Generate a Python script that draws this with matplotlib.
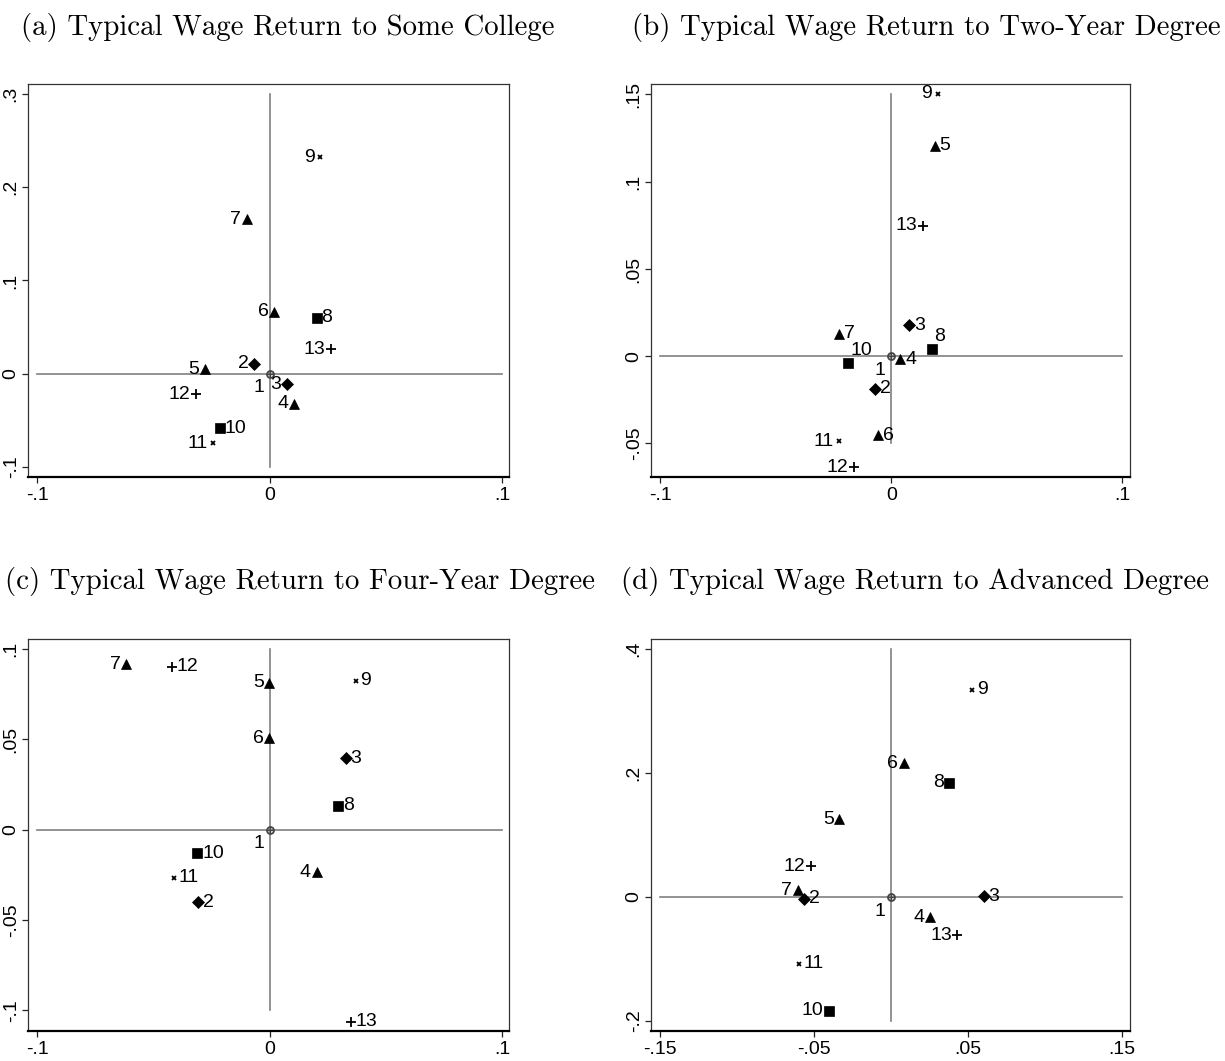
import matplotlib
matplotlib.use("Agg")
import matplotlib.pyplot as plt

plt.rcParams['font.family'] = ['Liberation Sans', 'DejaVu Sans']

ids = [1, 2, 3, 4, 5, 6, 7, 8, 9, 10, 11, 12, 13]

# estimated coordinates (x, y) for each group
a_x = [0, -0.0065, 0.0073, 0.0105, -0.0277, 0.0019, -0.0099, 0.0202, 0.0219, -0.0215, -0.0242, -0.0317, 0.0265]
a_y = [0, 0.0105, -0.011, -0.032, 0.0047, 0.0665, 0.1655, 0.060, 0.2323, -0.0582, -0.0746, -0.0221, 0.0261]

b_x = [0, -0.0071, 0.0077, 0.004, 0.0188, -0.0056, -0.0227, 0.0175, 0.0202, -0.0188, -0.0225, -0.0162, 0.0137]
b_y = [0, -0.0185, 0.0178, -0.0017, 0.1205, -0.0453, 0.0128, 0.004, 0.1503, -0.0038, -0.0486, -0.0637, 0.0748]

c_x = [0, -0.0306, 0.0327, 0.0202, -0.0001, -0.0001, -0.0617, 0.0294, 0.037, -0.0311, -0.0412, -0.042, 0.0349]
c_y = [0, -0.0403, 0.0394, -0.0235, 0.0813, 0.0505, 0.0915, 0.0133, 0.0824, -0.013, -0.0266, 0.0902, -0.1065]

d_x = [0, -0.0567, 0.0601, 0.0254, -0.0335, 0.0081, -0.0606, 0.0378, 0.0525, -0.0406, -0.0597, -0.0523, 0.043]
d_y = [0, -0.0026, 0.001, -0.0323, 0.125, 0.2155, 0.0108, 0.1842, 0.334, -0.183, -0.1076, 0.0496, -0.0614]

titles = ["(a) Typical Wage Return to Some College",
          "(b) Typical Wage Return to Two-Year Degree",
          "(c) Typical Wage Return to Four-Year Degree",
          "(d) Typical Wage Return to Advanced Degree"]

a_xticks = [-0.1, 0, 0.1]
a_xlabels = ["-.1", "0", ".1"]
a_yticks = [-0.1, 0, 0.1, 0.2, 0.3]
a_ylabels = ["-.1", "0", ".1", ".2", ".3"]

b_xticks = [-0.1, 0, 0.1]
b_xlabels = ["-.1", "0", ".1"]
b_yticks = [-0.05, 0, 0.05, 0.1, 0.15]
b_ylabels = ["-.05", "0", ".05", ".1", ".15"]

c_xticks = [-0.1, 0, 0.1]
c_xlabels = ["-.1", "0", ".1"]
c_yticks = [-0.1, -0.05, 0, 0.05, 0.1]
c_ylabels = ["-.1", "-.05", "0", ".05", ".1"]

d_xticks = [-0.15, -0.05, 0.05, 0.15]
d_xlabels = ["-.15", "-.05", ".05", ".15"]
d_yticks = [-0.2, 0, 0.2, 0.4]
d_ylabels = ["-.2", "0", ".2", ".4"]

# marker style per group id
markers = {1: 'o', 2: 'D', 3: 'D', 4: '^', 5: '^', 6: '^', 7: '^',
           8: 's', 9: 'x', 10: 's', 11: 'x', 12: '+', 13: '+'}
msizes = {'o': 5, 'D': 6.5, '^': 7.5, 's': 6.5, 'x': 3.5, '+': 6.5}

# where each number label sits relative to its marker
a_pos = ['ll', 'l', 'l', 'l', 'l', 'l', 'l', 'r', 'l', 'r', 'l', 'l', 'l']
b_pos = ['ll', 'r', 'r', 'r', 'r', 'r', 'r', 'ur', 'l', 'ur', 'l', 'l', 'l']
c_pos = ['ll', 'r', 'r', 'l', 'l', 'l', 'l', 'r', 'r', 'r', 'r', 'r', 'r']
d_pos = ['ll', 'r', 'r', 'l', 'l', 'l', 'l', 'l', 'r', 'l', 'r', 'l', 'l']

offsets = {'l': ((-4, 0), 'right', 'center'),
           'r': ((3.5, 0), 'left', 'center'),
           'ur': ((2, 3), 'left', 'bottom'),
           'll': ((-4, -4), 'right', 'top')}

W, H = 1225, 1061
fig = plt.figure(figsize=(W / 100, H / 100), dpi=100)

panels = [
    (a_x, a_y, a_pos, a_xticks, a_xlabels, a_yticks, a_ylabels, (-0.1039, 0.103), (-0.1107, 0.3107),
     [28, 84, 509, 477], (288, 28)),
    (b_x, b_y, b_pos, b_xticks, b_xlabels, b_yticks, b_ylabels, (-0.1039, 0.1033), (-0.0692, 0.156),
     [651, 84, 1130, 477], (926, 28)),
    (c_x, c_y, c_pos, c_xticks, c_xlabels, c_yticks, c_ylabels, (-0.1039, 0.103), (-0.1115, 0.1055),
     [28, 639, 509, 1031], (300, 582)),
    (d_x, d_y, d_pos, d_xticks, d_xlabels, d_yticks, d_ylabels, (-0.1558, 0.155), (-0.216, 0.416),
     [651, 639, 1130, 1031], (915, 582)),
]

for i, (xs, ys, pos, xt, xl, yt, yl, xlim, ylim, box, tpos) in enumerate(panels):
    l, t, r, b = box
    ax = fig.add_axes([l / W, 1 - b / H, (r - l) / W, (b - t) / H])

    # reference lines through zero, spanning the labelled tick range
    ax.plot([xt[0], xt[-1]], [0, 0], color='#808080', lw=1.2, zorder=1)
    ax.plot([0, 0], [yt[0], yt[-1]], color='#808080', lw=1.2, zorder=1)

    for k, gid in enumerate(ids):
        m = markers[gid]
        if m == 'o':
            ax.plot(xs[k], ys[k], marker='o', ms=msizes[m], mfc='none', mec='#444444', mew=1.3, zorder=3)
            ax.plot(xs[k], ys[k], marker='+', ms=msizes[m], color='#444444', mew=0.9, zorder=3)
        else:
            ax.plot(xs[k], ys[k], marker=m, ms=msizes[m], color='black',
                    mew=1.3 if m in ('x', '+') else 0.5, zorder=3, linestyle='none')
        off, ha, va = offsets[pos[k]]
        ax.annotate(str(gid), (xs[k], ys[k]), xytext=off, textcoords='offset points',
                    ha=ha, va=va, fontsize=14, color='black')

    ax.set_xlim(*xlim)
    ax.set_ylim(*ylim)
    ax.set_xticks(xt)
    ax.set_xticklabels(xl)
    ax.set_yticks(yt)
    ax.set_yticklabels(yl, rotation=90, va='center')
    ax.tick_params(axis='both', direction='out', length=4, width=0.9, labelsize=14, color='#222222')
    ax.tick_params(axis='x', pad=3)
    ax.tick_params(axis='y', pad=2)
    for s in ['top', 'right', 'left']:
        ax.spines[s].set_color('#333333')
        ax.spines[s].set_linewidth(0.9)
    ax.spines['bottom'].set_color('black')
    ax.spines['bottom'].set_linewidth(1.6)

    fig.text(tpos[0] / W, 1 - tpos[1] / H, titles[i], ha='center', va='center',
             fontsize=20.8, family='cmr10')

fig.savefig("out.png", dpi=100)
